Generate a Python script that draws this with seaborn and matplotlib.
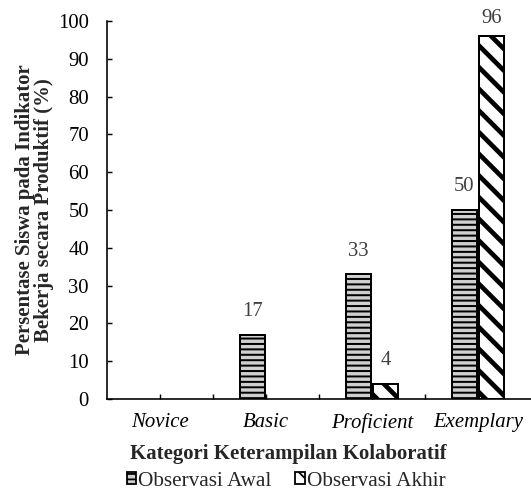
import matplotlib
matplotlib.use("Agg")
import matplotlib.pyplot as plt
from matplotlib.patches import Patch
import seaborn as sns
import pandas as pd

categories = ["Novice", "Basic", "Proficient", "Exemplary"]
series = ["Observasi Awal", "Observasi Akhir"]
awal = [0, 17, 33, 50]
akhir = [0, 0, 4, 96]
yticks = [0, 10, 20, 30, 40, 50, 60, 70, 80, 90, 100]

sns.set_theme(style="white")
plt.rcParams["font.family"] = ["Liberation Serif", "DejaVu Serif"]
plt.rcParams["font.serif"] = ["Liberation Serif", "DejaVu Serif"]
plt.rcParams["hatch.color"] = "black"

DPI = 130
FS = 11.5
fig = plt.figure(figsize=(531 / DPI, 502 / DPI), dpi=DPI)
ax = fig.add_axes([107 / 531, 103 / 502, 1 - 107 / 531, 378 / 502])

df = pd.DataFrame({
    "kategori": categories * 2,
    "nilai": awal + akhir,
    "observasi": [series[0]] * 4 + [series[1]] * 4,
})

sns.barplot(data=df, x="kategori", y="nilai", hue="observasi",
            order=categories, hue_order=series, width=0.52, gap=0.08,
            ax=ax, legend=False, errorbar=None)

styles = [
    dict(face="#cfcfcf", hatch="----", hlw=1.1),
    dict(face="white", hatch="\\\\", hlw=2.6),
]
for cont, st, vals in zip(ax.containers, styles, [awal, akhir]):
    for patch, v in zip(cont.patches, vals):
        patch.set_facecolor(st["face"])
        patch.set_edgecolor("black")
        patch.set_hatch(st["hatch"])
        patch.set_linewidth(1.1 if v > 0 else 0)
        if hasattr(patch, "set_hatch_linewidth"):
            patch.set_hatch_linewidth(st["hlw"])
    labels = [str(v) if v > 0 else "" for v in vals]
    anns = ax.bar_label(cont, labels=labels, padding=7.5, fontsize=FS,
                        color="#404040")
    # label of the tallest bar sits closer to it (kept inside the figure)
    for ann, v in zip(anns, vals):
        if v > 90:
            ann.xyann = (0, 4.5)

ax.set_xlim(-0.5, 3.5)
ax.set_ylim(0, 100)
ax.set_yticks(yticks)
ax.set_xticks(range(len(categories)))
ax.set_xticklabels(categories, fontstyle="italic", fontsize=FS)
ax.set_xticks([0.5, 1.5, 2.5], minor=True)
ax.tick_params(axis="y", direction="in", length=2.5, width=0.8, pad=10,
               labelsize=FS, left=True, colors="black")
ax.tick_params(axis="x", which="both", direction="in", length=2.5, width=0.8,
               pad=8, labelsize=FS, bottom=True, colors="black")
for s in ["top", "right"]:
    ax.spines[s].set_visible(False)
for s in ["left", "bottom"]:
    ax.spines[s].set_color("black")
    ax.spines[s].set_linewidth(0.9)

ax.set_xlabel("Kategori Keterampilan Kolaboratif", fontsize=FS,
              fontweight="bold", labelpad=6)
ax.xaxis.label.set_x((288 - 107) / 424)
ax.set_ylabel("Persentase Siswa pada Indikator\nBekerja secara Produktif (%)",
              fontsize=FS, fontweight="bold", linespacing=0.95, labelpad=2)

handles = [Patch(facecolor=st["face"], edgecolor="black", hatch=st["hatch"],
                 linewidth=1.0) for st in styles]
fig.legend(handles, series, loc="center", ncol=2,
           bbox_to_anchor=(286 / 531, 1 - 481 / 502), frameon=False,
           fontsize=11.8, handlelength=0.45, handleheight=0.45,
           handletextpad=0.1, columnspacing=1.1, borderaxespad=0, borderpad=0)

fig.savefig("out.png", dpi=DPI)
